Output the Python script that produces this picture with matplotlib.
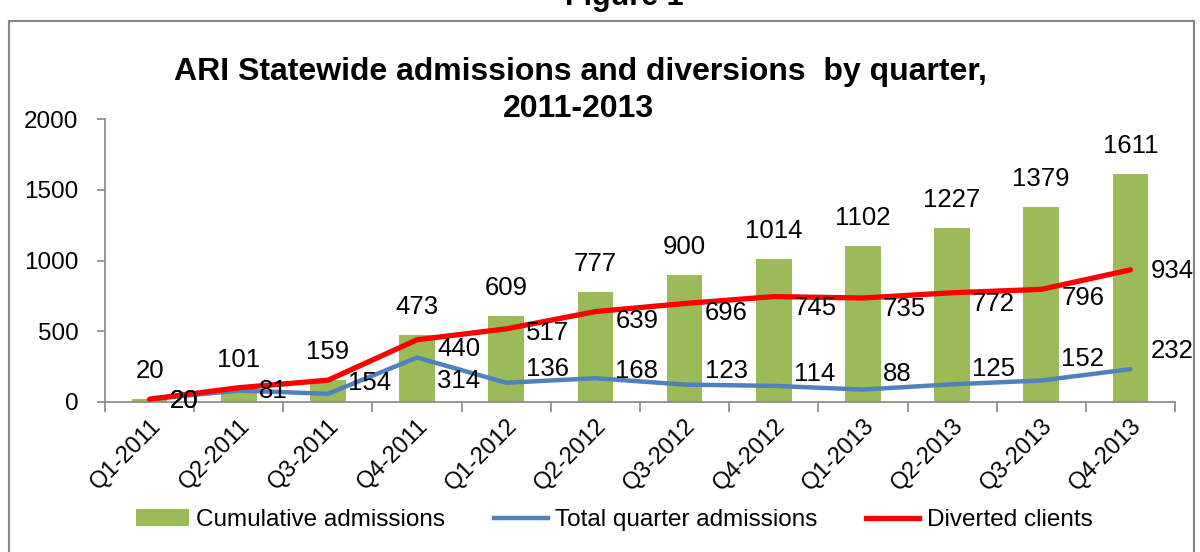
import matplotlib
matplotlib.use('Agg')
import matplotlib.pyplot as plt
from matplotlib.patches import Rectangle
from matplotlib.lines import Line2D
from matplotlib.patches import Patch

quarters = ['Q1-2011', 'Q2-2011', 'Q3-2011', 'Q4-2011', 'Q1-2012', 'Q2-2012',
            'Q3-2012', 'Q4-2012', 'Q1-2013', 'Q2-2013', 'Q3-2013', 'Q4-2013']
cumulative = [20, 101, 159, 473, 609, 777, 900, 1014, 1102, 1227, 1379, 1611]
quarter_adm = [20, 81, 58, 314, 136, 168, 123, 114, 88, 125, 152, 232]
diverted = [20, 101, 154, 440, 517, 639, 696, 745, 735, 772, 796, 934]
quarter_labelled = [True, True, False, True, True, True, True, True, True, True, True, True]
diverted_labelled = [True, False, True, True, True, True, True, True, True, True, True, True]

# label vertical offsets (pixels) - styling only
red_dy = [-2, 0, -3, -9, -4, -9, -9, -11, -11, -11, -9, -1]
blue_dy = [-2, 0, 0, -23, 14, 7, 14, 12, 16, 15, 21, 18]

plt.rcParams['font.family'] = ['Liberation Sans', 'DejaVu Sans']
FS_DATA = 18.5
FS_Y = 17.5
FS_X = 17
FS_LEG = 17.5
GREEN = '#9BBB59'
BLUE = '#4F81BD'
RED = '#FF0000'
AX_C = '#868686'

fig = plt.figure(figsize=(12, 5.52), dpi=100)
ax = fig.add_axes([105/1200, 1-402/552, (1175-105)/1200, (402-119)/552])

x = list(range(len(quarters)))
ax.bar(x, cumulative, width=0.4, color=GREEN, zorder=2)
ax.plot(x, quarter_adm, color=BLUE, lw=3.2, zorder=3, solid_capstyle='round')
ax.plot(x, diverted, color=RED, lw=3.8, zorder=4, solid_capstyle='round')

for xi, v in zip(x, cumulative):
    ax.annotate(str(v), (xi, v), xytext=(0, 16), textcoords='offset pixels',
                ha='center', va='bottom', fontsize=FS_DATA, zorder=5)
for xi, v, show, dy in zip(x, diverted, diverted_labelled, red_dy):
    if show:
        ax.annotate(str(v), (xi, v), xytext=(20, dy), textcoords='offset pixels',
                    ha='left', va='center', fontsize=FS_DATA, zorder=5)
for xi, v, show, dy in zip(x, quarter_adm, quarter_labelled, blue_dy):
    if show:
        ax.annotate(str(v), (xi, v), xytext=(20, dy), textcoords='offset pixels',
                    ha='left', va='center', fontsize=FS_DATA, zorder=5)

ax.set_xlim(-0.5, len(quarters) - 0.5)
ax.set_ylim(0, 2000)
ax.set_yticks([0, 500, 1000, 1500, 2000])
ax.set_xticks(x)
ax.set_xticklabels(quarters, rotation=45, ha='right', va='top',
                   rotation_mode='anchor', fontsize=FS_X)
ax.set_xticks([i - 0.5 for i in range(len(quarters) + 1)], minor=True)
ax.tick_params(axis='x', which='major', length=0, pad=9)
ax.tick_params(axis='x', which='minor', length=7, color=AX_C, width=1.2)
ax.tick_params(axis='y', length=6, color=AX_C, width=1.2, labelsize=FS_Y, pad=13)
for s in ['top', 'right']:
    ax.spines[s].set_visible(False)
for s in ['left', 'bottom']:
    ax.spines[s].set_color(AX_C)
    ax.spines[s].set_linewidth(1.2)

fig.text(580/1200, 1-72/552, 'ARI Statewide admissions and diversions  by quarter,',
         ha='center', va='center', fontsize=23, fontweight='bold')
fig.text(578/1200, 1-109/552, '2011-2013',
         ha='center', va='center', fontsize=23, fontweight='bold')
fig.text(624/1200, 1-5/552, 'Figure 1', ha='center', va='baseline',
         fontsize=22, fontweight='bold')

fig.patches.append(Rectangle((9/1200, -0.05), (1194-9)/1200, 1-21/552+0.05,
                             transform=fig.transFigure, fill=False,
                             edgecolor=AX_C, lw=1.5))

handles = [Patch(facecolor=GREEN, edgecolor='none'),
           Line2D([0], [0], color=BLUE, lw=3.2),
           Line2D([0], [0], color=RED, lw=3.8)]
fig.legend(handles, ['Cumulative admissions', 'Total quarter admissions', 'Diverted clients'],
           loc='center', bbox_to_anchor=(614/1200, 1-520/552), ncol=3, frameon=False,
           fontsize=FS_LEG, handlelength=2.2, handletextpad=0.3, columnspacing=2.0,
           handleheight=0.7)

fig.savefig('out.png', dpi=100)
